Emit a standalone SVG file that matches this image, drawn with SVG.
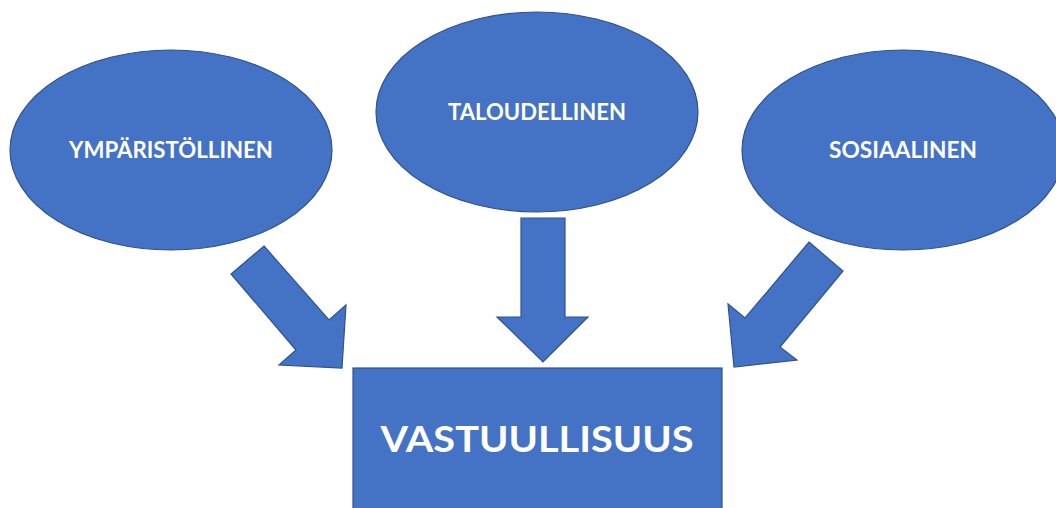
<svg xmlns="http://www.w3.org/2000/svg" width="1056" height="508" viewBox="0 0 1056 508">
<style>
.shape{fill:#4472C4;stroke:#2F528F;stroke-width:1.2;stroke-linejoin:miter}
.lbl{fill:#FFFFFF;font-family:Lato,"Open Sans","Liberation Sans",sans-serif;font-weight:700;text-anchor:middle}
</style>
<rect width="1056" height="508" fill="#FFFFFF"/>
<g id="ymparistollinen">
<ellipse class="shape" cx="171" cy="150" rx="161" ry="100"/>
<text class="lbl" x="171" y="158" font-size="23" textLength="204" lengthAdjust="spacingAndGlyphs">YMPÄRISTÖLLINEN</text>
</g>
<g id="taloudellinen">
<ellipse class="shape" cx="537" cy="112" rx="161" ry="100"/>
<text class="lbl" x="537" y="120" font-size="23" textLength="178" lengthAdjust="spacingAndGlyphs">TALOUDELLINEN</text>
</g>
<g id="sosiaalinen">
<ellipse class="shape" cx="903" cy="150" rx="161" ry="100"/>
<text class="lbl" x="903" y="158" font-size="23" textLength="148" lengthAdjust="spacingAndGlyphs">SOSIAALINEN</text>
</g>
<g id="vastuullisuus">
<rect class="shape" x="353" y="368" width="369" height="150"/>
<text class="lbl" x="537" y="452" font-size="37" textLength="313" lengthAdjust="spacingAndGlyphs">VASTUULLISUUS</text>
</g>
<g id="connectors">
<polygon class="shape" points="264,246 329,320 346,305 342,368 279,365 296,350 231,274"/>
<polygon class="shape" points="521,218 565,218 565,317 588,317 543,362 497,317 521,317"/>
<polygon class="shape" points="809,242 843,271 780,347 797,360 734,367 728,304 745,318"/>
</g>
</svg>
